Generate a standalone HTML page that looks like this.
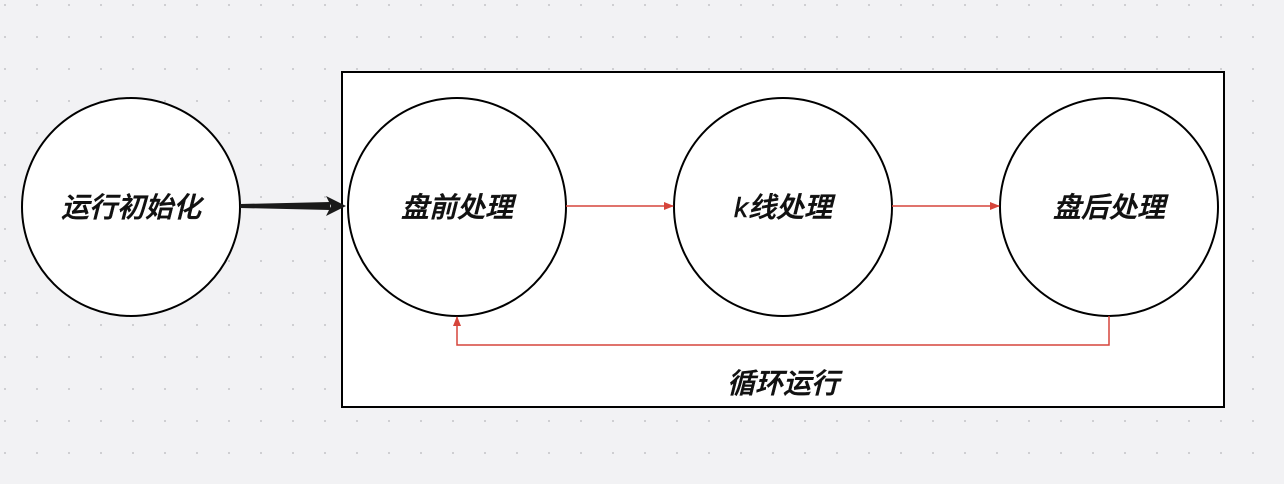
<!DOCTYPE html>
<html><head><meta charset="utf-8"><style>
html,body{margin:0;padding:0;width:1284px;height:484px;overflow:hidden;background:#f2f2f4;}
</style></head><body>
<svg width="1284" height="484" xmlns="http://www.w3.org/2000/svg">
<defs>
<pattern id="d" x="0" y="0" width="32" height="32" patternUnits="userSpaceOnUse">
<rect x="4" y="4" width="2" height="2" fill="#cfcfd2"/>
</pattern>
<marker id="ra" markerWidth="10" markerHeight="10" refX="9" refY="5" orient="auto" markerUnits="userSpaceOnUse">
<path d="M0,1 L10,5 L0,9 Z" fill="#d6453b"/>
</marker>
</defs>
<rect width="1284" height="484" fill="#f2f2f4"/>
<rect width="1284" height="484" fill="url(#d)"/>
<rect x="342" y="72" width="882" height="335" fill="#fff" stroke="#000" stroke-width="2"/>
<g fill="#fff" stroke="#000" stroke-width="2">
<circle cx="131" cy="207" r="109"/>
<circle cx="457" cy="207" r="109"/>
<circle cx="783" cy="207" r="109"/>
<circle cx="1109" cy="207" r="109"/>
</g>
<path d="M240,204 L330,202 L330,210 L240,208 Z" fill="#1a1a1a"/>
<path d="M326,196 L346,206 L326,216 L331,206 Z" fill="#1a1a1a"/>
<g stroke="#d6453b" stroke-width="1.5" fill="none">
<line x1="566" y1="206" x2="673" y2="206" marker-end="url(#ra)"/>
<line x1="892" y1="206" x2="999" y2="206" marker-end="url(#ra)"/>
<polyline points="1109,316 1109,345 457,345 457,317" marker-end="url(#ra)"/>
</g>
<g font-family="Liberation Sans, Noto Sans CJK SC, sans-serif" font-size="28" font-weight="500" font-style="italic" text-anchor="middle" fill="#111" stroke="#111" stroke-width="0.5">
<text x="131" y="217">运行初始化</text>
<text x="457" y="217">盘前处理</text>
<text x="783" y="217">k线处理</text>
<text x="1109" y="217">盘后处理</text>
<text x="783" y="393">循环运行</text>
</g>
</svg>
</body></html>
